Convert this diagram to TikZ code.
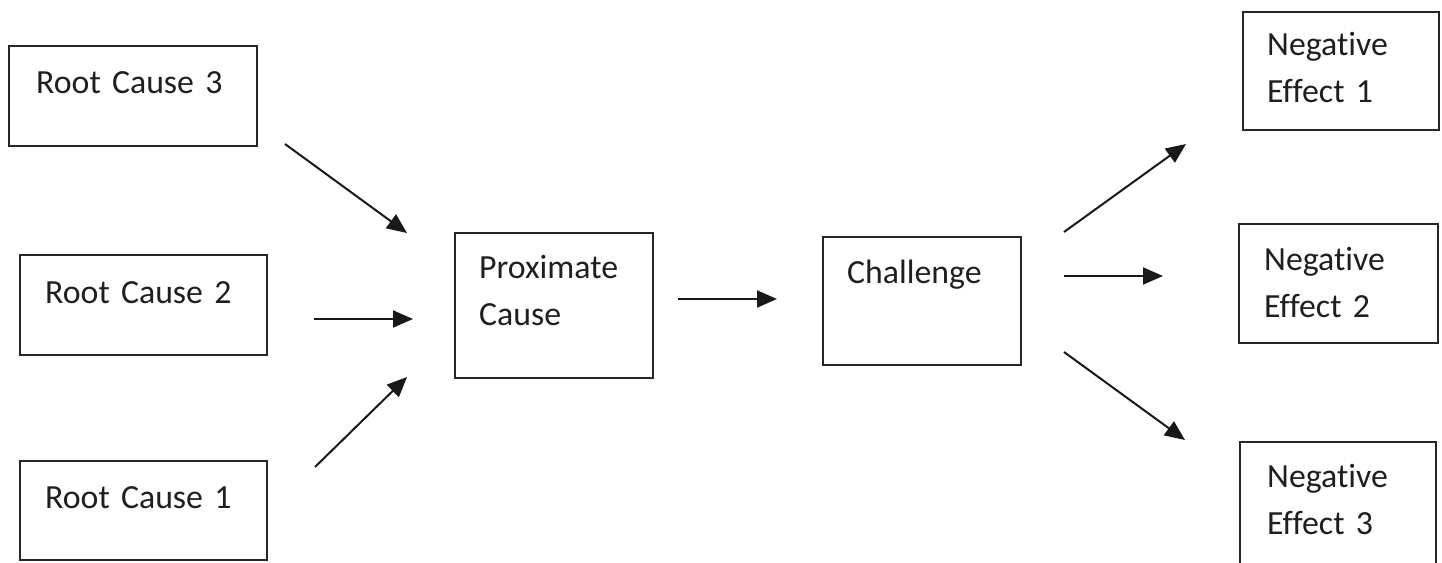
\documentclass[tikz,border=0pt]{standalone}
\usepackage{fontspec}
\setmainfont[Ligatures=NoCommon, WordSpace=0.8]{Carlito}
\usetikzlibrary{arrows.meta}
\tikzset{
  box/.style={draw=black!85, line width=1.9pt, anchor=north west, inner sep=0pt},
  txt/.style={anchor=base west, inner sep=0pt, text=black!88, text width=230pt, align=left, font=\fontsize{33.8}{47}\selectfont},
  arr/.style={-{Triangle[length=20pt,width=17pt]}, line width=2pt, draw=black!90}
}
\begin{document}
\begin{tikzpicture}[x=1pt, y=-1pt]
	\useasboundingbox (0,0) rectangle (1442,562);
	\clip (0,0) rectangle (1442,562);
	% root causes
	\node[box, minimum width=248pt, minimum height=100pt] (rc3) at (8,45) {};
	\node[box, minimum width=247pt, minimum height=100pt] (rc2) at (19,254) {};
	\node[box, minimum width=247pt, minimum height=99pt] (rc1) at (19,460) {};
	\node[txt] (rc3t) at ([shift={(28,48)}]rc3.north west) {Root Cause 3};
	\node[txt] (rc2t) at ([shift={(26,49)}]rc2.north west) {Root Cause 2};
	\node[txt] (rc1t) at ([shift={(26,48)}]rc1.north west) {Root Cause 1};
	% middle
	\node[box, minimum width=198pt, minimum height=145pt] (prox) at (454,232) {};
	\node[box, minimum width=198pt, minimum height=128pt] (chal) at (822,236) {};
	\node[txt] (proxt) at ([shift={(25,46)}]prox.north west) {Proximate\\Cause};
	\node[txt] (chalt) at ([shift={(25,47)}]chal.north west) {Challenge};
	% effects
	\node[box, minimum width=196pt, minimum height=118pt] (ne1) at (1242,11) {};
	\node[box, minimum width=199pt, minimum height=119pt] (ne2) at (1238,223) {};
	\node[box, minimum width=196pt, minimum height=140pt] (ne3) at (1239,441) {};
	\node[txt] (ne1t) at ([shift={(25,44)}]ne1.north west) {Negative\\Effect 1};
	\node[txt] (ne2t) at ([shift={(26,47)}]ne2.north west) {Negative\\Effect 2};
	\node[txt] (ne3t) at ([shift={(28,46)}]ne3.north west) {Negative\\Effect 3};
	% arrow ends
	\coordinate (a3s) at (285,144);  \coordinate (a3e) at (407,233);
	\coordinate (a2s) at (314,319);  \coordinate (a2e) at (413,319);
	\coordinate (a1s) at (315,467);  \coordinate (a1e) at (407,377);
	\coordinate (aps) at (678,299);  \coordinate (ape) at (777,299);
	\coordinate (e1s) at (1064,232); \coordinate (e1e) at (1186,144);
	\coordinate (e2s) at (1064,276); \coordinate (e2e) at (1163,276);
	\coordinate (e3s) at (1064,352); \coordinate (e3e) at (1185,440);
	\draw[arr] (a3s) -- (a3e);
	\draw[arr] (a2s) -- (a2e);
	\draw[arr] (a1s) -- (a1e);
	\draw[arr] (aps) -- (ape);
	\draw[arr] (e1s) -- (e1e);
	\draw[arr] (e2s) -- (e2e);
	\draw[arr] (e3s) -- (e3e);
\end{tikzpicture}
\end{document}
